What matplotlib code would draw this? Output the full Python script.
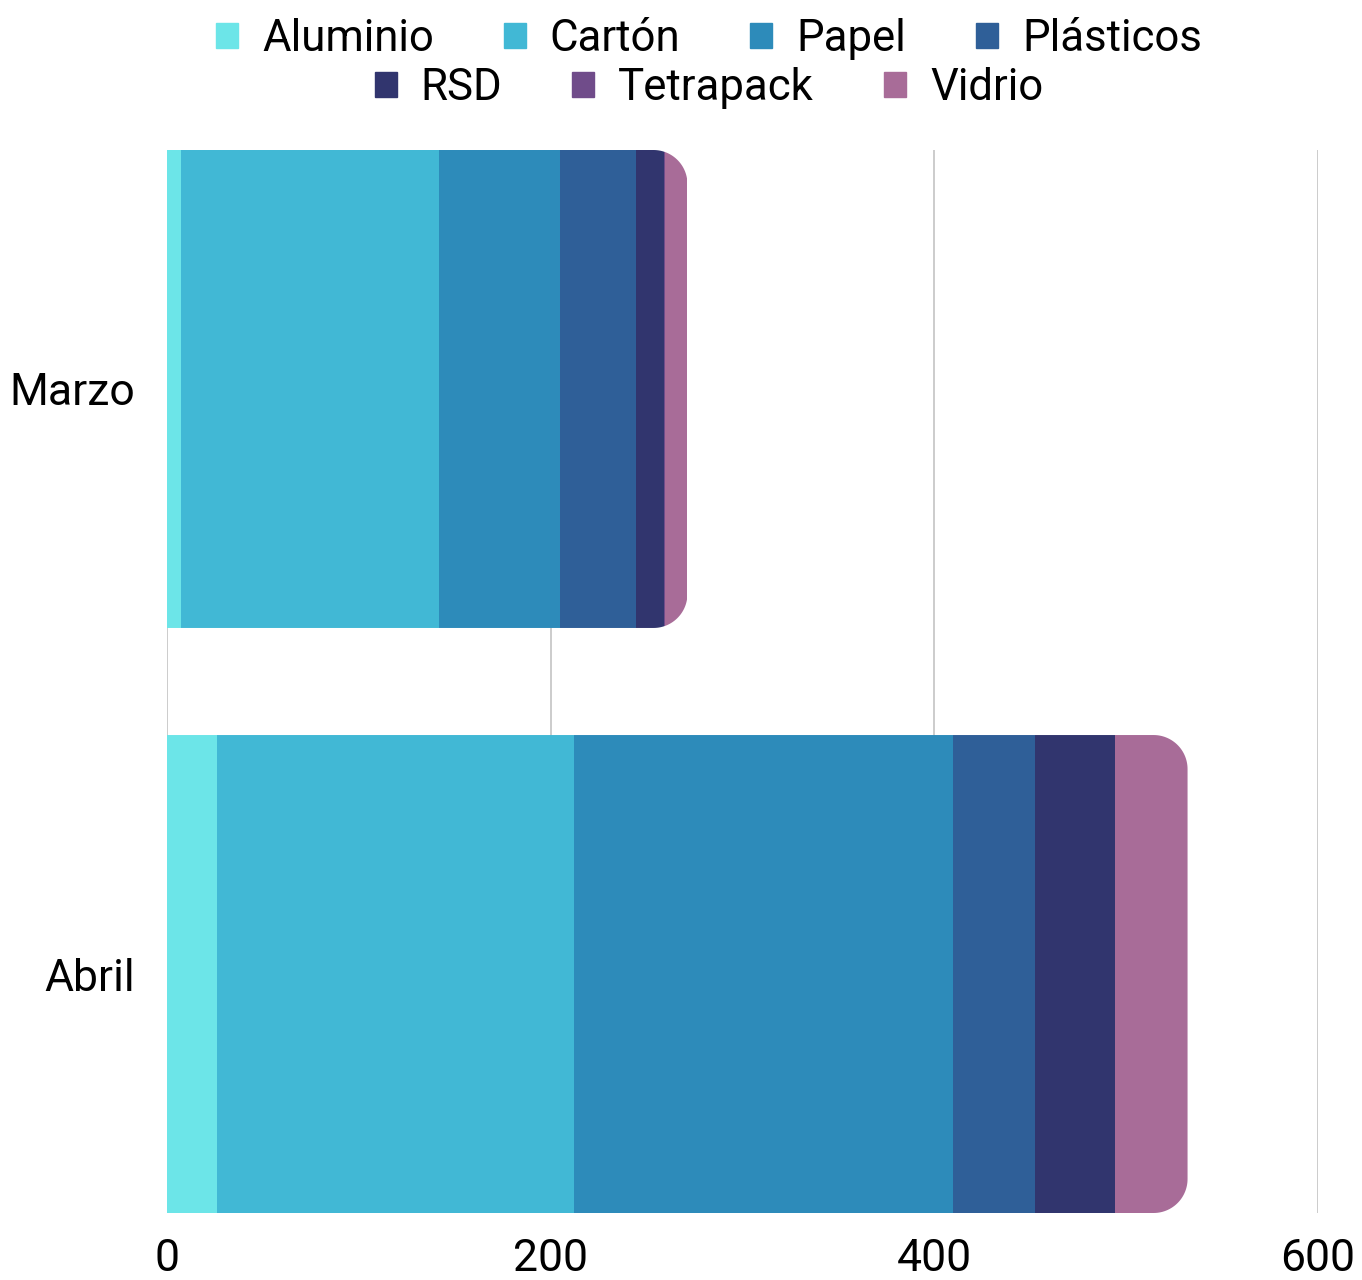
import matplotlib
matplotlib.use('Agg')
import matplotlib.pyplot as plt
import numpy as np
from matplotlib.path import Path
from matplotlib.patches import Patch

# Datos
meses = ['Marzo', 'Abril']
categorias = ['Aluminio', 'Cartón', 'Papel', 'Plásticos', 'RSD', 'Tetrapack', 'Vidrio']
aluminio = [7.3, 26]
carton = [134.5, 186]
papel = [63, 197.5]
plasticos = [39.6, 42.8]
rsd = [14.6, 41.7]
tetrapack = [0.8, 0]
vidrio = [11.5, 38]
series = [aluminio, carton, papel, plasticos, rsd, tetrapack, vidrio]
colores = ['#6ce5e8', '#41b8d5', '#2d8bba', '#2f5f98', '#31356e', '#704c8a', '#a86c98']
ticks_x = [0, 200, 400, 600]

plt.rcParams['font.family'] = ['Roboto', 'DejaVu Sans']

W, H = 1362, 1280
fig = plt.figure(figsize=(W / 100, H / 100), dpi=100)
ax = fig.add_axes([167 / W, 1 - 1213 / H, (1318 - 167) / W, (1213 - 150) / H])

alto = 0.817
pos = np.arange(len(meses))
ax.set_xlim(0, 600)
ax.set_ylim(len(meses) - 1 + alto / 2, -alto / 2)

# Escala en pixeles para el redondeo
p0 = ax.transData.transform((0, 0))
p1 = ax.transData.transform((1, 1))
sx, sy = abs(p1[0] - p0[0]), abs(p1[1] - p0[1])
r_px = 34
rx, ry = r_px / sx, r_px / sy

totales = np.sum(series, axis=0)
izq = np.zeros(len(meses))
barras = []
for nombre, vals, col in zip(categorias, series, colores):
    b = ax.barh(pos, vals, left=izq, height=alto, color=col, label=nombre, zorder=3, linewidth=0)
    barras.append(b)
    izq = izq + np.array(vals)

# Forma con esquinas derechas redondeadas para recortar cada barra
t = np.linspace(0, np.pi / 2, 30)
for i, (yc, tot) in enumerate(zip(pos, totales)):
    y0, y1 = yc - alto / 2, yc + alto / 2
    cx = tot - rx
    verts = [(0, y0), (cx, y0)]
    verts += [(cx + rx * np.sin(a), y0 + ry - ry * np.cos(a)) for a in t]
    verts += [(cx + rx * np.cos(a), y1 - ry + ry * np.sin(a)) for a in t]
    verts += [(0, y1), (0, y0)]
    forma = Path(verts, closed=True)
    for b in barras:
        b[i].set_clip_path(forma, ax.transData)

ax.set_xticks(ticks_x)
ax.set_yticks(pos)
ax.set_yticklabels(meses)
ax.grid(axis='x', color='#c8c8c8', linewidth=1.3, zorder=0)
ax.set_axisbelow(True)
for s in ax.spines.values():
    s.set_visible(False)
ax.tick_params(axis='both', length=0, labelsize=32, colors='black')
ax.tick_params(axis='y', pad=23)
ax.tick_params(axis='x', pad=18)

# Leyenda en dos filas centradas
handles = [Patch(color=c, label=n) for n, c in zip(categorias, colores)]
opts = dict(frameon=False, fontsize=31.5, handlelength=0.5, handleheight=0.5,
            handletextpad=0.55, columnspacing=1.6, borderaxespad=0)
fig.legend(handles=handles[:4], ncol=4, loc='center', bbox_to_anchor=(709 / W, 1 - 39 / H), **opts)
fig.legend(handles=handles[4:], ncol=3, loc='center', bbox_to_anchor=(709 / W, 1 - 88 / H), **opts)

fig.savefig('out.png', dpi=100)
